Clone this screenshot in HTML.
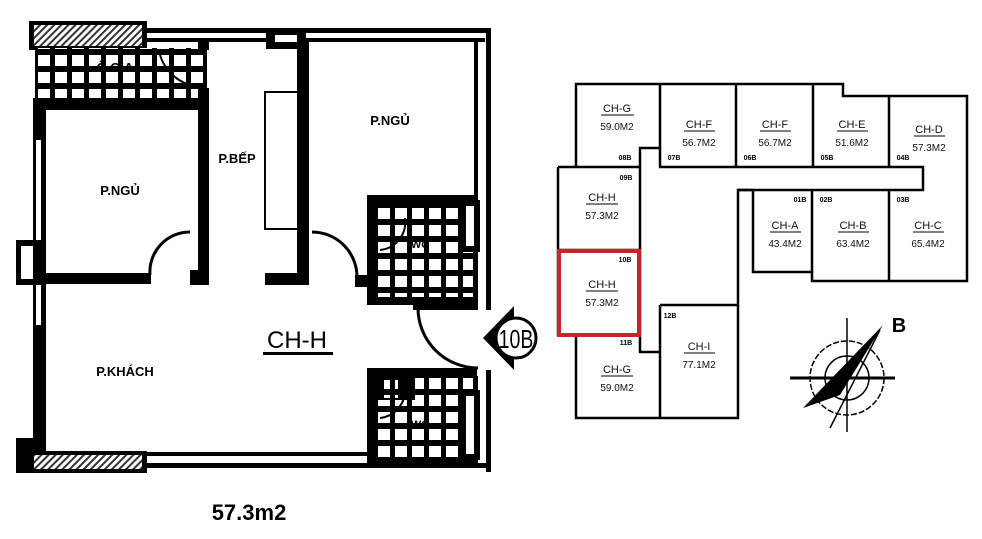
<!DOCTYPE html>
<html><head><meta charset="utf-8"><style>
html,body{margin:0;padding:0;background:#fff;}
svg{display:block}
text{font-family:"Liberation Sans",sans-serif;}
</style></head><body>
<svg width="982" height="539" viewBox="0 0 982 539" xmlns="http://www.w3.org/2000/svg">
<defs>
<pattern id="tile" x="0" y="0" width="17" height="17" patternUnits="userSpaceOnUse">
<rect width="17" height="17" fill="#000"/><rect x="4" y="4" width="12" height="11" fill="#fff"/>
</pattern>
<pattern id="hatch" width="5" height="5" patternUnits="userSpaceOnUse" patternTransform="rotate(45)">
<rect width="5" height="5" fill="#fff"/><rect width="2" height="5" fill="#333"/>
</pattern>
</defs>
<rect width="982" height="539" fill="#fff"/>

<g fill="#000">
<rect x="29" y="21" width="118" height="29" fill="#000"/>
<rect x="34" y="25" width="108" height="21" fill="url(#hatch)"/>
<rect x="29" y="451" width="118" height="22" fill="#000"/>
<rect x="34" y="455" width="108" height="14" fill="url(#hatch)"/>
<rect x="145" y="28" width="346" height="5"/>
<rect x="145" y="38" width="122" height="4"/>
<rect x="305" y="38" width="180" height="4"/>
<rect x="266" y="32" width="40" height="17"/>
<rect x="275" y="35" width="22" height="7" fill="#fff"/>
<rect x="486" y="28" width="5" height="282"/>
<rect x="474" y="42" width="4" height="262"/>
<rect x="486" y="370" width="5" height="102"/>
<rect x="474" y="376" width="4" height="90"/>
<rect x="145" y="463" width="346" height="5"/>
<rect x="145" y="452" width="330" height="4"/>
<rect x="33" y="100" width="13" height="352"/>
<rect x="36" y="140" width="5" height="185" fill="#fff"/>
<rect x="16" y="240" width="30" height="45"/>
<rect x="21" y="246" width="12" height="33" fill="#fff"/>
<rect x="16" y="438" width="18" height="35"/>
<rect x="35" y="48" width="172" height="55" fill="url(#tile)"/>
<rect x="33" y="98" width="175" height="12"/>
<rect x="198" y="42" width="11" height="8"/>
<rect x="198" y="88" width="11" height="197"/>
<rect x="190" y="270" width="18" height="15"/>
<rect x="45" y="273" width="106" height="11"/>
<rect x="297" y="38" width="12" height="247"/>
<rect x="265" y="273" width="44" height="12"/>
<rect x="265" y="92" width="33" height="137" fill="none" stroke="#000" stroke-width="2"/>
<rect x="367" y="195" width="110" height="110"/>
<rect x="377" y="205" width="96" height="92" fill="url(#tile)"/>
<rect x="460" y="200" width="20" height="52" fill="#000"/>
<rect x="466" y="206" width="8" height="40" fill="#fff"/>
<rect x="355" y="275" width="14" height="12"/>
<rect x="367" y="368" width="110" height="100"/>
<rect x="377" y="378" width="96" height="80" fill="url(#tile)"/>
<rect x="377" y="378" width="38" height="22" fill="#000"/>
<rect x="384" y="380" width="14" height="18" fill="url(#tile)"/>
<rect x="460" y="390" width="20" height="70"/>
<rect x="466" y="396" width="8" height="58" fill="#fff"/>
<rect x="413" y="302" width="65" height="8"/>
</g>
<g fill="none" stroke="#000" stroke-width="3">
<path d="M150 275 A40 40 0 0 1 190 232"/>
<path d="M312 232 A45 45 0 0 1 357 277"/>
<path d="M418 308 A60 60 0 0 0 478 368"/>
<path d="M160 55 A45 45 0 0 0 190 85" stroke-width="2"/>
<path d="M380 250 A28 28 0 0 0 405 218" stroke-width="2"/>
<path d="M380 418 A28 28 0 0 0 405 390" stroke-width="2"/>
</g>
<!-- 10B marker -->
<path d="M483 338 L514 306 L514 370 Z" fill="#000"/>
<circle cx="516" cy="338" r="20" fill="#fff" stroke="#000" stroke-width="3"/>
<text x="0" y="0" font-size="26" text-anchor="middle" transform="translate(516 348) scale(0.75 1)">10B</text>
<g font-weight="bold" font-size="13" text-anchor="middle">
<text x="115" y="72">Ô GIA</text>
<text x="120" y="195">P.NGỦ</text>
<text x="237" y="163">P.BẾP</text>
<text x="390" y="125">P.NGỦ</text>
<text x="125" y="376">P.KHÁCH</text>
<text x="420" y="248" font-size="11">WC</text>
<text x="420" y="428" font-size="11">WC</text>
</g>
<text x="297" y="348" font-size="24" text-anchor="middle">CH-H</text>
<rect x="263" y="352" width="70" height="3" fill="#000"/>
<text x="249" y="520" font-size="22" font-weight="bold" text-anchor="middle">57.3m2</text>

<g fill="none" stroke="#000" stroke-width="2.5">
<path d="M576 167 L576 84 L843 84 L843 96 L967 96 L967 281 L812 281 L812 272 L753 272 L753 190 L738 190 L738 305 L660 305"/>
<path d="M738 190 L923 190 L923 167 L660 167 L660 148 L640 148 L640 352 L660 352"/>
<path d="M558 167 L640 167 M558 167 L558 335 L576 335 L576 418 L738 418 L738 305"/>
<path d="M660 84 L660 148 M736 84 L736 167 M813 84 L813 167 M889 96 L889 167 M812 190 L812 272 M889 190 L889 281 M660 305 L660 418 M558 250 L640 250"/>
</g>
<rect x="559" y="251" width="80" height="84" fill="none" stroke="#d0202a" stroke-width="4"/>
<g font-size="11" text-anchor="middle" fill="#111">
<text x="617" y="112">CH-G</text><text x="617" y="130" font-size="10">59.0M2</text>
<text x="699" y="128">CH-F</text><text x="699" y="146" font-size="10">56.7M2</text>
<text x="775" y="128">CH-F</text><text x="775" y="146" font-size="10">56.7M2</text>
<text x="852" y="128">CH-E</text><text x="852" y="146" font-size="10">51.6M2</text>
<text x="929" y="133">CH-D</text><text x="929" y="151" font-size="10">57.3M2</text>
<text x="602" y="201">CH-H</text><text x="602" y="219" font-size="10">57.3M2</text>
<text x="602" y="288">CH-H</text><text x="602" y="306" font-size="10">57.3M2</text>
<text x="617" y="373">CH-G</text><text x="617" y="391" font-size="10">59.0M2</text>
<text x="699" y="350">CH-I</text><text x="699" y="368" font-size="10">77.1M2</text>
<text x="785" y="229">CH-A</text><text x="785" y="247" font-size="10">43.4M2</text>
<text x="853" y="229">CH-B</text><text x="853" y="247" font-size="10">63.4M2</text>
<text x="928" y="229">CH-C</text><text x="928" y="247" font-size="10">65.4M2</text>
</g>
<g stroke="#000" stroke-width="1">
<line x1="601" y1="115" x2="634" y2="115"/><line x1="684" y1="131" x2="715" y2="131"/><line x1="760" y1="131" x2="791" y2="131"/><line x1="837" y1="131" x2="868" y2="131"/><line x1="914" y1="136" x2="945" y2="136"/><line x1="586" y1="204" x2="618" y2="204"/><line x1="586" y1="291" x2="618" y2="291"/><line x1="601" y1="376" x2="633" y2="376"/><line x1="684" y1="353" x2="715" y2="353"/><line x1="770" y1="232" x2="801" y2="232"/><line x1="838" y1="232" x2="869" y2="232"/><line x1="913" y1="232" x2="944" y2="232"/>
</g>
<g font-size="7" font-weight="bold" text-anchor="middle">
<text x="625" y="160">08B</text><text x="626" y="180">09B</text><text x="674" y="160">07B</text><text x="750" y="160">06B</text><text x="827" y="160">05B</text><text x="903" y="160">04B</text>
<text x="625" y="262">10B</text><text x="626" y="345">11B</text><text x="670" y="318">12B</text>
<text x="800" y="202">01B</text><text x="826" y="202">02B</text><text x="903" y="202">03B</text>
</g>
<g fill="none" stroke="#000" stroke-width="1.5">
<circle cx="847" cy="378" r="37" stroke-dasharray="6 2"/>
<circle cx="847" cy="378" r="22"/>
<line x1="790" y1="378" x2="895" y2="378" stroke-width="3"/>
<line x1="847" y1="318" x2="847" y2="432"/>
<line x1="830" y1="428" x2="880" y2="330"/>
</g>
<path d="M883 325 L803 408 L840 395 Z" fill="#000"/>
<text x="899" y="332" font-size="20" font-weight="bold" text-anchor="middle">B</text>
</svg>
</body></html>
